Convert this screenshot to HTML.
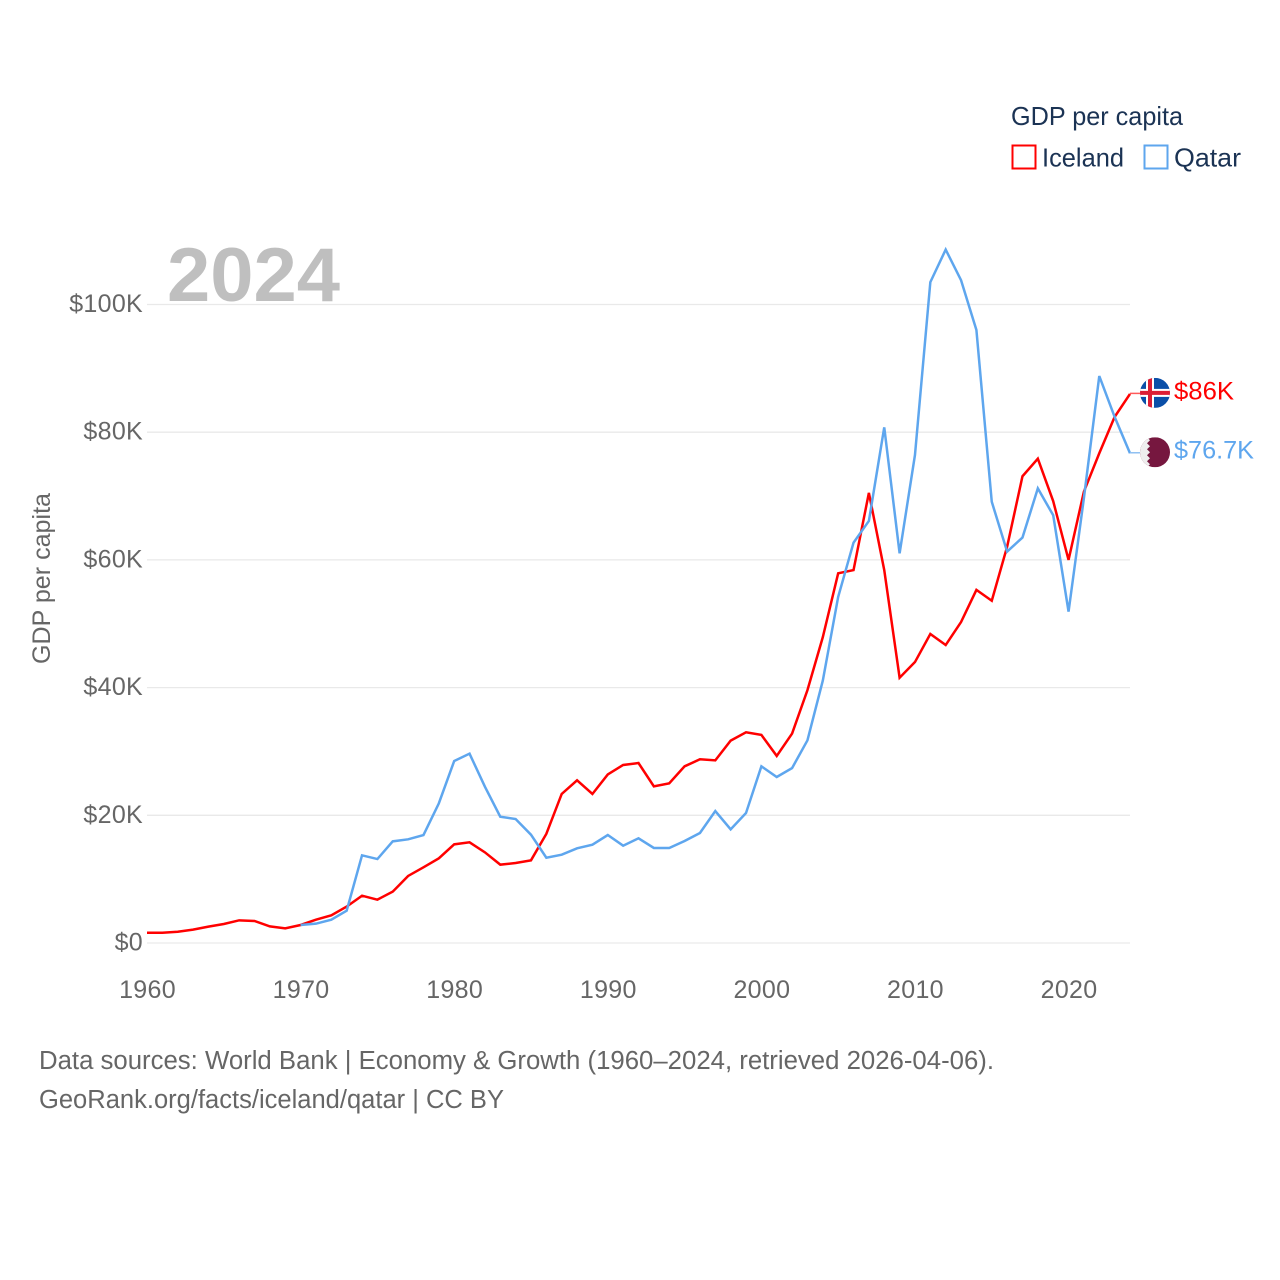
<!DOCTYPE html>
<html lang="en">
<head>
<meta charset="utf-8">
<title>GDP per capita: Iceland and Qatar</title>
<style>
html,body{margin:0;padding:0;background:#fff;}
svg{display:block;font-family:"Liberation Sans",sans-serif;}
</style>
</head>
<body>
<svg id="chart" xmlns="http://www.w3.org/2000/svg" width="1280" height="1280" viewBox="0 0 1280 1280">
  <defs>
    <clipPath id="flag-clip-a"><circle cx="0" cy="0" r="15"></circle></clipPath>
    <clipPath id="flag-clip-b"><circle cx="0" cy="0" r="15"></circle></clipPath>
  </defs>
  <rect x="0" y="0" width="1280" height="1280" fill="#ffffff"></rect>
  <g id="grid"></g>
  <g id="yticks"></g>
  <g id="xticks"></g>
  <text x="167" y="301" font-size="76" font-weight="700" fill="#bfbfbf" textLength="173" lengthAdjust="spacingAndGlyphs">2024</text>
  <text transform="translate(50,664) rotate(-90)" font-size="25" fill="#666666" textLength="171" lengthAdjust="spacingAndGlyphs">GDP per capita</text>
  <g id="series"></g>
  <g id="iceland-flag">
    <g clip-path="url(#flag-clip-a)">
      <rect x="-15" y="-15" width="30" height="30" fill="#0a4fa8"></rect>
      <rect x="-9" y="-15" width="8" height="30" fill="#ffffff"></rect>
      <rect x="-15" y="-4" width="30" height="8" fill="#ffffff"></rect>
      <rect x="-7" y="-15" width="4" height="30" fill="#dc1e35"></rect>
      <rect x="-15" y="-2" width="30" height="4" fill="#dc1e35"></rect>
    </g>
  </g>
  <g id="qatar-flag">
    <g clip-path="url(#flag-clip-b)">
      <rect x="-15" y="-15" width="30" height="30" fill="#76173f"></rect>
      <polygon fill="#eeeeee" points="-15,-15 -8,-15 -5,-12 -8,-9 -5,-6 -8,-3 -5,0 -8,3 -5,6 -8,9 -5,12 -8,15 -15,15"></polygon>
    </g>
  </g>
  <text id="iceland-value" x="1174" font-size="25" fill="#ff0000" textLength="60" lengthAdjust="spacingAndGlyphs"></text>
  <text id="qatar-value" x="1174" font-size="25" fill="#5ea6ee" textLength="80" lengthAdjust="spacingAndGlyphs"></text>

  <g>
    <text x="1011" y="125" font-size="26" fill="#1b3354" textLength="172" lengthAdjust="spacingAndGlyphs">GDP per capita</text>
    <g>
      <rect x="1012.5" y="145.5" width="23" height="23" fill="#ffffff" stroke="#ff0000" stroke-width="2"></rect>
      <text x="1042" y="166.5" font-size="26" fill="#1b3354" textLength="82" lengthAdjust="spacingAndGlyphs">Iceland</text>
    </g>
    <g>
      <rect x="1144.5" y="145.5" width="23" height="23" fill="#ffffff" stroke="#5ea6ee" stroke-width="2"></rect>
      <text x="1174" y="166.5" font-size="26" fill="#1b3354" textLength="67" lengthAdjust="spacingAndGlyphs">Qatar</text>
    </g>
  </g>

  <text x="39" y="1069" font-size="25.5" fill="#666666" textLength="955" lengthAdjust="spacingAndGlyphs">Data sources: World Bank | Economy &amp; Growth (1960–2024, retrieved 2026-04-06).</text>
  <text x="39" y="1108" font-size="25.5" fill="#666666" textLength="465" lengthAdjust="spacingAndGlyphs">GeoRank.org/facts/iceland/qatar | CC BY</text>
</svg>

<script>
var years = [1960,1961,1962,1963,1964,1965,1966,1967,1968,1969,1970,1971,1972,1973,1974,1975,1976,1977,1978,1979,1980,1981,1982,1983,1984,1985,1986,1987,1988,1989,1990,1991,1992,1993,1994,1995,1996,1997,1998,1999,2000,2001,2002,2003,2004,2005,2006,2007,2008,2009,2010,2011,2012,2013,2014,2015,2016,2017,2018,2019,2020,2021,2022,2023,2024];
var icelandValues = [1.6,1.6,1.77,2.09,2.56,2.98,3.55,3.45,2.6,2.3,2.82,3.65,4.33,5.7,7.41,6.79,8.04,10.5,11.85,13.26,15.45,15.77,14.2,12.27,12.53,12.95,17.1,23.34,25.48,23.34,26.4,27.88,28.19,24.54,25.0,27.67,28.77,28.6,31.7,33.0,32.6,29.3,32.8,39.6,47.9,57.9,58.4,70.5,58.4,41.55,44.0,48.4,46.67,50.27,55.3,53.6,62.07,73.1,75.85,69.2,60.0,70.7,76.7,82.4,86.0];
var qatarValues = [null,null,null,null,null,null,null,null,null,null,2.82,3.03,3.65,5.06,13.73,13.15,15.92,16.24,16.91,21.87,28.5,29.65,24.48,19.78,19.42,16.96,13.36,13.83,14.83,15.4,16.91,15.24,16.4,14.88,14.88,15.97,17.23,20.67,17.8,20.36,27.67,26.0,27.4,31.74,41.1,54.2,62.7,66.1,80.76,61.03,76.43,103.5,108.6,103.8,96.0,69.1,61.3,63.5,71.2,67.0,51.9,69.7,88.8,82.4,76.7];
var yTickValues = [0,20,40,60,80,100];
var yTickLabels = ["$0","$20K","$40K","$60K","$80K","$100K"];
var xTickValues = [1960,1970,1980,1990,2000,2010,2020];
var icelandValueLabel = "$86K";
var qatarValueLabel = "$76.7K";

var NS = "http://www.w3.org/2000/svg";
function xScale(year){ return 147 + (year - 1960) * (983 / 64); }
function yScale(value){ return 943 - value * 6.385; }
function make(tag, parent){
  var el = document.createElementNS(NS, tag);
  parent.appendChild(el);
  return el;
}

var gridGroup = document.getElementById("grid");
var yTickGroup = document.getElementById("yticks");
yTickValues.forEach(function(v, i){
  var line = make("line", gridGroup);
  
  
  line.setAttribute("x1", 147);
  line.setAttribute("x2", 1130);
  line.setAttribute("y1", yScale(v));
  line.setAttribute("y2", yScale(v));
  line.setAttribute("stroke", "#e9e9e9");
  line.setAttribute("stroke-width", "1.3");

  var label = make("text", yTickGroup);
  
  
  label.setAttribute("x", 143);
  label.setAttribute("y", yScale(v) + 7.5);
  label.setAttribute("text-anchor", "end");
  label.setAttribute("font-size", "25");
  label.setAttribute("letter-spacing", "0.3");
  label.setAttribute("fill", "#666666");
  label.textContent = yTickLabels[i];
});

var xTickGroup = document.getElementById("xticks");
xTickValues.forEach(function(year){
  var label = make("text", xTickGroup);
  
  
  label.setAttribute("x", xScale(year) + 0.5);
  label.setAttribute("y", 998);
  label.setAttribute("text-anchor", "middle");
  label.setAttribute("font-size", "25");
  label.setAttribute("letter-spacing", "0.3");
  label.setAttribute("fill", "#666666");
  label.textContent = String(year);
});

function linePoints(values){
  var pts = [];
  values.forEach(function(v, i){
    if (v !== null) { pts.push(xScale(years[i]).toFixed(2) + "," + yScale(v).toFixed(2)); }
  });
  return pts.join(" ");
}

var seriesGroup = document.getElementById("series");

var icelandLine = make("polyline", seriesGroup);


icelandLine.setAttribute("points", linePoints(icelandValues));
icelandLine.setAttribute("fill", "none");
icelandLine.setAttribute("stroke", "#ff0000");
icelandLine.setAttribute("stroke-width", "2.5");

var qatarLine = make("polyline", seriesGroup);


qatarLine.setAttribute("points", linePoints(qatarValues));
qatarLine.setAttribute("fill", "none");
qatarLine.setAttribute("stroke", "#5ea6ee");
qatarLine.setAttribute("stroke-width", "2.5");

var lastIndex = years.length - 1;
var endX = xScale(years[lastIndex]);
var icelandEndY = yScale(icelandValues[lastIndex]);
var qatarEndY = yScale(qatarValues[lastIndex]);

var icelandConnector = make("line", seriesGroup);


icelandConnector.setAttribute("x1", endX);
icelandConnector.setAttribute("x2", endX + 10);
icelandConnector.setAttribute("y1", icelandEndY - 0.5);
icelandConnector.setAttribute("y2", icelandEndY - 0.5);
icelandConnector.setAttribute("stroke", "#ff5a5a");
icelandConnector.setAttribute("stroke-width", "1.5");

var qatarConnector = make("line", seriesGroup);


qatarConnector.setAttribute("x1", endX);
qatarConnector.setAttribute("x2", endX + 10);
qatarConnector.setAttribute("y1", qatarEndY - 0.5);
qatarConnector.setAttribute("y2", qatarEndY - 0.5);
qatarConnector.setAttribute("stroke", "#8fc0f2");
qatarConnector.setAttribute("stroke-width", "1.5");

document.getElementById("iceland-flag").setAttribute("transform", "translate(" + (endX + 25) + "," + (icelandEndY - 1) + ")");
document.getElementById("qatar-flag").setAttribute("transform", "translate(" + (endX + 25) + "," + (qatarEndY - 1) + ")");

var icelandText = document.getElementById("iceland-value");
icelandText.setAttribute("y", icelandEndY + 5.5);
icelandText.textContent = icelandValueLabel;

var qatarText = document.getElementById("qatar-value");
qatarText.setAttribute("y", qatarEndY + 5);
qatarText.textContent = qatarValueLabel;
</script>
</body>
</html>
